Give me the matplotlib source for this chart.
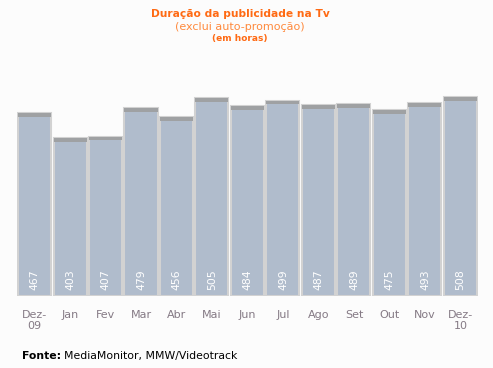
import matplotlib
matplotlib.use("Agg")
import matplotlib.pyplot as plt
import numpy as np

months = ["Dez-\n09", "Jan", "Fev", "Mar", "Abr", "Mai", "Jun", "Jul", "Ago", "Set", "Out", "Nov", "Dez-\n10"]
hours = [467, 403, 407, 479, 456, 505, 484, 499, 487, 489, 475, 493, 508]

orange = "#ff6a13"
bar_color = "#b0bccc"
edge_color = "#d2d2d2"
cap_color = "#9fa1a3"

fig = plt.figure(figsize=(4.93, 3.68), dpi=100)
fig.patch.set_facecolor("#fcfcfc")
ax = fig.add_axes([0.034, 0.1957, 0.936, 0.6386])
ax.set_facecolor("#fcfcfc")

x = np.arange(len(hours))
ax.bar(x, hours, width=0.93, color=bar_color, edgecolor=edge_color, linewidth=1.5)
ax.bar(x, [10] * len(hours), bottom=np.array(hours) - 10, width=0.93, color=cap_color, linewidth=0)

for xi, h in zip(x, hours):
    ax.text(xi, 14, str(h), rotation=90, ha="center", va="bottom", color="white", fontsize=7.8)

ax.set_xlim(-0.5, len(hours) - 0.5)
ax.set_ylim(0, 600)
ax.set_xticks(x)
ax.set_xticklabels(months, color="#857a85", fontsize=8, linespacing=1.1)
ax.tick_params(axis="x", length=0, pad=10)
ax.set_yticks([])
for side in ax.spines.values():
    side.set_visible(False)

fig.text(0.487, 0.963, "Duração da publicidade na Tv", ha="center", va="center", color=orange, fontsize=7.7, fontweight="bold")
fig.text(0.487, 0.927, "(exclui auto-promoção)", ha="center", va="center", color="#ff8a3d", fontsize=8)
fig.text(0.487, 0.896, "(em horas)", ha="center", va="center", color=orange, fontsize=6.5, fontweight="bold")

t = fig.text(0.045, 0.032, "Fonte:", ha="left", va="center", color="black", fontsize=7.8, fontweight="bold")
fig.canvas.draw()
bb = t.get_window_extent()
fig.text((bb.x1 + 3) / fig.bbox.width, 0.032, "MediaMonitor, MMW/Videotrack", ha="left", va="center", color="black", fontsize=7.8)

fig.savefig("out.png", dpi=100, facecolor=fig.get_facecolor())
